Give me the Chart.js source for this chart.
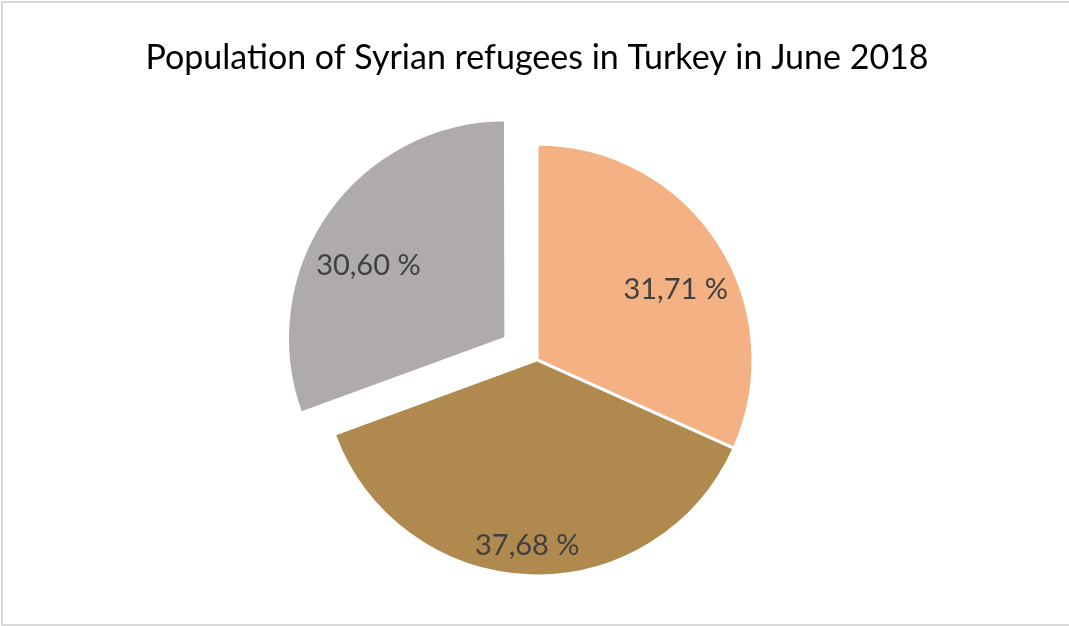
<!DOCTYPE html>
<html>
<head>
<meta charset="utf-8">
<script src="https://cdn.jsdelivr.net/npm/chart.js@4.4.1/dist/chart.umd.min.js"></script>
<style>
  html, body { margin: 0; padding: 0; background: #ffffff; }
  #wrap { width: 1069px; height: 626px; position: relative; }
</style>
</head>
<body>
<div id="wrap"><canvas id="c" width="1069" height="626"></canvas></div>
<script>
const titleText = 'Population of Syrian refugees in Turkey in June 2018';
const categories = ['Category A', 'Category B', 'Category C'];
const shares = [31.71, 37.68, 30.60];
const sliceColors = ['#F4B183', '#B0894E', '#AFABAB'];

// label placement style (fraction of radius, angle shift in degrees)
const labelRadius = [0.72, 0.86, 0.72];
const labelShift = [6, 1, -7];

const labelPlugin = {
  id: 'sliceLabels',
  afterDatasetsDraw(chart) {
    const ctx = chart.ctx;
    const meta = chart.getDatasetMeta(0);
    ctx.save();
    ctx.font = '29px Lato';
    ctx.fillStyle = '#404040';
    ctx.textAlign = 'center';
    ctx.textBaseline = 'middle';
    meta.data.forEach((arc, i) => {
      const p = arc.getProps(['x', 'y', 'startAngle', 'endAngle', 'outerRadius'], true);
      const mid = (p.startAngle + p.endAngle) / 2;
      const off = (arc.options.offset || 0) / 4;
      const cx = p.x + Math.cos(mid) * off;
      const cy = p.y + Math.sin(mid) * off;
      const ang = mid + labelShift[i] * Math.PI / 180;
      const r = p.outerRadius * labelRadius[i];
      const txt = shares[i].toFixed(2).replace('.', ',') + ' %';
      ctx.fillText(txt, cx + Math.cos(ang) * r, cy + Math.sin(ang) * r);
    });
    ctx.restore();
  }
};

const framePlugin = {
  id: 'frame',
  afterDraw(chart) {
    const ctx = chart.ctx;
    ctx.save();
    ctx.strokeStyle = '#d9d9d9';
    ctx.lineWidth = 2;
    ctx.strokeRect(2, 2, 1075, 623);
    ctx.restore();
  }
};

new Chart(document.getElementById('c'), {
  type: 'pie',
  data: {
    labels: categories,
    datasets: [{
      data: shares,
      backgroundColor: sliceColors,
      borderColor: '#ffffff',
      borderWidth: 3,
      offset: [0, 0, 152],
      hoverOffset: 0
    }]
  },
  options: {
    responsive: false,
    animation: false,
    events: [],
    radius: 216,
    layout: { padding: { left: 5, right: 0, top: 0, bottom: 6 } },
    plugins: {
      legend: { display: false },
      tooltip: { enabled: false },
      title: {
        display: true,
        text: titleText,
        color: '#000000',
        font: { family: 'Lato', size: 34, weight: 'normal', lineHeight: 1.2 },
        padding: { top: 38, bottom: 21 }
      }
    }
  },
  plugins: [labelPlugin, framePlugin]
});
</script>
</body>
</html>
